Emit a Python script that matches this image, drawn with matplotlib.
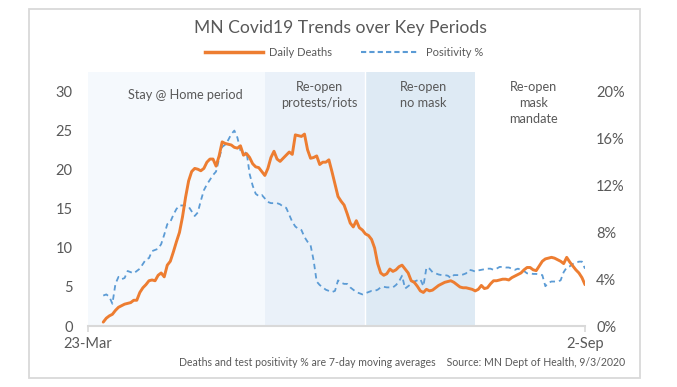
import matplotlib
matplotlib.use("Agg")
import matplotlib.pyplot as plt
import matplotlib.dates as mdates
from matplotlib.patches import Rectangle
from matplotlib.lines import Line2D
import pandas as pd

plt.rcParams['font.family'] = ['Lato', 'DejaVu Sans']

# 7-day moving averages, one value per day starting 28-Mar-2020
first_day = "2020-03-28"
deaths = [0.5, 1.0, 1.3, 1.5, 2.0, 2.4, 2.6, 2.8, 2.9, 3.0,
          3.3, 3.3, 4.3, 4.9, 5.3, 5.8, 5.9, 5.8, 6.5, 6.8,
          6.3, 7.8, 8.3, 9.5, 10.8, 12.0, 14.0, 16.5, 18.6, 19.8,
          20.2, 20.1, 19.9, 20.2, 21.0, 21.4, 21.4, 20.5, 21.8, 23.6,
          23.4, 23.3, 23.2, 22.9, 22.8, 23.1, 21.9, 22.1, 21.6, 20.8,
          20.4, 20.3, 19.8, 19.3, 20.2, 21.6, 22.4, 21.4, 21.1, 21.5,
          21.9, 22.3, 22.0, 24.5, 24.4, 24.3, 24.6, 22.6, 21.5, 21.6,
          21.8, 20.7, 21.0, 21.0, 21.3, 19.8, 18.2, 16.6, 16.0, 15.5,
          14.4, 13.2, 12.7, 13.5, 12.6, 12.3, 11.8, 11.6, 11.1, 10.0,
          8.0, 6.8, 6.5, 6.7, 7.3, 7.0, 7.2, 7.6, 7.8, 7.3,
          6.8, 5.8, 5.6, 5.1, 4.5, 4.3, 4.7, 4.5, 4.6, 4.9,
          5.2, 5.4, 5.6, 5.7, 5.8, 5.6, 5.3, 5.0, 4.9, 4.9,
          4.8, 4.7, 4.5, 4.7, 5.2, 4.8, 4.9, 5.4, 5.8, 5.8,
          5.9, 6.0, 6.0, 5.9, 6.2, 6.4, 6.6, 6.8, 7.2, 7.5,
          7.5, 7.2, 7.1, 7.7, 8.3, 8.6, 8.7, 8.8, 8.7, 8.5,
          8.3, 8.0, 8.8, 8.2, 7.7, 7.2, 6.8, 6.2, 5.3]
positivity = [2.6, 2.7, 2.5, 1.9, 3.6, 4.2, 4.0, 4.1, 4.7, 4.6,
              4.5, 4.7, 4.9, 5.3, 5.7, 5.8, 6.4, 6.5, 6.6, 7.0,
              7.8, 8.7, 8.9, 9.5, 10.0, 10.3, 10.3, 10.3, 10.2, 9.8,
              9.4, 9.7, 10.7, 11.6, 12.1, 12.5, 12.9, 13.2, 14.3, 15.3,
              15.5, 15.9, 16.4, 16.7, 16.1, 15.0, 14.6, 14.9, 13.0, 12.0,
              11.3, 11.1, 11.2, 10.9, 10.6, 10.5, 10.5, 10.5, 10.4, 10.2,
              10.1, 9.5, 8.9, 8.5, 8.3, 8.2, 7.6, 7.2, 6.9, 5.6,
              3.8, 3.5, 3.3, 3.1, 3.0, 2.9, 3.0, 3.9, 3.7, 3.6,
              3.6, 3.3, 3.1, 2.9, 2.8, 2.7, 2.8, 2.9, 3.0, 3.0,
              3.1, 3.3, 3.35, 3.3, 3.3, 3.3, 3.5, 3.8, 4.3, 3.2,
              3.4, 3.6, 3.8, 3.9, 4.0, 3.4, 5.0, 4.9, 4.6, 4.5,
              4.4, 4.35, 4.35, 4.3, 4.1, 4.35, 4.35, 4.35, 4.4, 4.5,
              4.8, 4.75, 4.65, 4.75, 4.8, 4.85, 4.9, 4.9, 4.8, 4.9,
              5.05, 5.05, 5.0, 5.0, 4.9, 4.8, 4.9, 4.8, 4.7, 4.5,
              4.5, 4.45, 4.45, 4.4, 4.35, 3.4, 3.7, 3.8, 3.8, 3.8,
              3.9, 4.6, 5.0, 5.1, 5.3, 5.4, 5.5, 5.5, 4.9]

# shaded periods
period_starts = ["2020-03-23", "2020-05-20", "2020-06-22"]
period_ends = ["2020-05-20", "2020-06-22", "2020-07-28"]
period_colors = ["#f5f9fd", "#eaf1f9", "#deeaf4"]
period_labels = ["Stay @ Home period", "Re-open\nprotests/riots", "Re-open\nno mask", "Re-open\nmask\nmandate"]
label_dates = ["2020-04-24", "2020-06-07", "2020-07-11", "2020-08-16"]
label_y = [30.4, 31.4, 31.4, 31.4]

axis_start, axis_end = "2020-03-23", "2020-09-02"

orange = "#ed7d31"
blue = "#5b9bd5"
grey = "#595959"

dates = pd.date_range(first_day, periods=len(deaths), freq="D")
pos_frac = [p / 100 for p in positivity]

fig = plt.figure(figsize=(6.77, 3.87), dpi=100)
W, H = 677, 387
ax = fig.add_axes([88 / W, 61 / H, 497 / W, 254 / H])
ax2 = ax.twinx()
ax.set_zorder(ax2.get_zorder() + 1)
ax.patch.set_visible(False)
ax2.patch.set_visible(False)

for s, e, c in zip(period_starts, period_ends, period_colors):
    ax2.axvspan(pd.Timestamp(s), pd.Timestamp(e), color=c, lw=0, zorder=0)
ax2.axvline(pd.Timestamp(period_starts[2]), color="white", lw=1.0, zorder=0.5)

ax.plot(dates, deaths, color=orange, lw=2.1, solid_capstyle="round", zorder=3)
ax2.plot(dates, pos_frac, color=blue, lw=1.3, dashes=(3, 2.2), zorder=2)

ymax = 32.56
ax.set_ylim(0, ymax)
ax2.set_ylim(0, 0.20 * ymax / 30)
ax.set_xlim(pd.Timestamp(axis_start), pd.Timestamp(axis_end))

ax.set_yticks([0, 5, 10, 15, 20, 25, 30])
ax2.set_yticks([0, 0.04, 0.08, 0.12, 0.16, 0.20])
ax2.set_yticklabels(["0%", "4%", "8%", "12%", "16%", "20%"])
ax.set_xticks([pd.Timestamp(axis_start), pd.Timestamp(axis_end)])
ax.xaxis.set_major_formatter(mdates.DateFormatter("%-d-%b"))

for a in (ax, ax2):
    for sp in a.spines.values():
        sp.set_visible(False)
ax.spines["bottom"].set_visible(True)
ax.spines["bottom"].set_color("#d9d9d9")
ax.spines["bottom"].set_linewidth(1.5)

ax.tick_params(axis="y", length=0, pad=11, labelsize=10.5, labelcolor=grey)
ax2.tick_params(axis="y", length=0, pad=8, labelsize=10.5, labelcolor=grey)
ax.tick_params(axis="x", length=4, width=1.2, color="#d9d9d9", pad=4,
               labelsize=10.5, labelcolor=grey)

for lab, d, y in zip(period_labels, label_dates, label_y):
    ax.text(pd.Timestamp(d), y, lab, ha="center", va="top", fontsize=9.2,
            color=grey, linespacing=1.4)

fig.text(340 / W, 1 - 28 / H, "MN Covid19 Trends over Key Periods",
         ha="center", va="center", fontsize=12.6, color=grey)

handles = [Line2D([], [], color=orange, lw=2.5),
           Line2D([], [], color=blue, lw=1.5, dashes=(2.5, 1.5))]
fig.legend(handles, ["Daily Deaths", "Positivity %"], loc="center",
           bbox_to_anchor=(344 / W, 1 - 52 / H), ncol=2, frameon=False,
           fontsize=8, handlelength=5.2, handletextpad=0.6, columnspacing=2.6,
           labelcolor=grey)

fig.text(625 / W, 1 - 363 / H,
         "Deaths and test positivity % are 7-day moving averages    Source: MN Dept of Health, 9/3/2020",
         ha="right", va="center", fontsize=7.6, color=grey)

fig.add_artist(Rectangle((29 / W, 1 - 378 / H), (640 - 29) / W, (378 - 9) / H,
                         transform=fig.transFigure, fill=False,
                         edgecolor="#d9d9d9", lw=1.3))

fig.savefig("out.png", dpi=100)
